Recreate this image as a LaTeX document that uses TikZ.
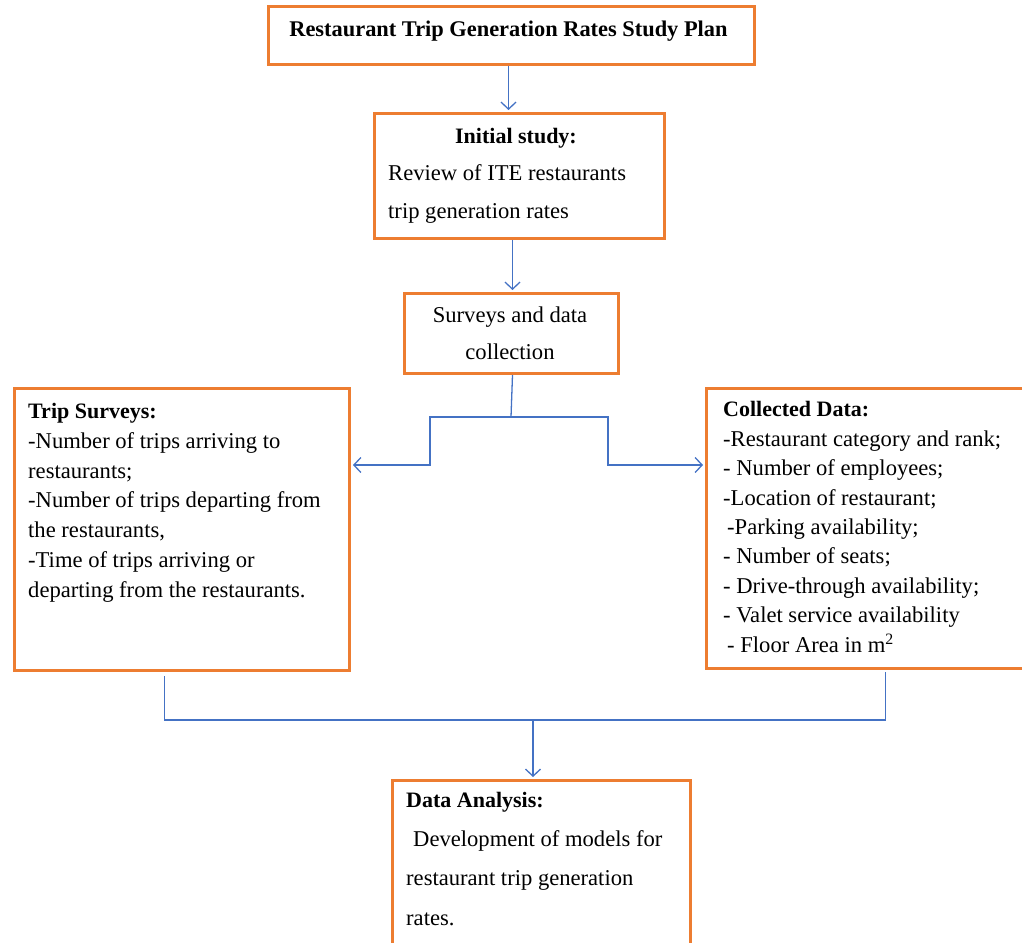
\documentclass[tikz,border=0pt]{standalone}
\usepackage{fontspec}
\setmainfont{Liberation Serif}
\usetikzlibrary{arrows.meta}
\definecolor{boxorange}{RGB}{237,125,49}
\definecolor{linkblue}{RGB}{68,114,196}
\begin{document}
\begin{tikzpicture}[x=1pt,y=-1pt,
  box/.style={draw=boxorange,line width=3pt,inner sep=0pt,anchor=north west},
  txt/.style={inner sep=0pt,anchor=base west,align=left},
  ctxt/.style={inner sep=0pt,anchor=base,align=center},
  fs/.style={font=\fontsize{22.6}{#1}\selectfont},
  link/.style={draw=linkblue,line width=1.3pt},
  arr/.style={link,-{Straight Barb[length=7pt,width=15pt]},shorten >=2pt}]
\useasboundingbox (0,0) rectangle (1022,942);
% boxes
\node[box,minimum width=486pt,minimum height=58pt] (title) at (267,5) {};
\node[box,minimum width=290pt,minimum height=125pt] (init) at (373,112) {};
\node[box,minimum width=214pt,minimum height=80pt] (surv) at (403,292) {};
\node[box,minimum width=335pt,minimum height=282pt] (trip) at (13,387) {};
\node[box,minimum width=340pt,minimum height=280pt] (coll) at (705,387) {};
\node[box,minimum width=298pt,minimum height=200pt] (anal) at (391,779) {};
% texts
\node[ctxt,fs=26] (ttl) at (508.5,37) {\fontsize{22.4}{26}\selectfont\bfseries Restaurant Trip Generation Rates Study Plan};
\node[ctxt,fs=26] (inith) at (516,143) {\fontsize{22}{26}\selectfont\bfseries Initial study:};
\node[txt,fs=37.5] (initb) at (388,218) {Review of ITE restaurants\\trip generation rates};
\node[ctxt,fs=37] (survt) at (510,359) {Surveys and data\\collection};
\node[txt,fs=29.7] (tript) at (28,597) {{\fontsize{22}{29.7}\selectfont\bfseries Trip Surveys:}\\-Number of trips arriving to\\restaurants;\\-Number of trips departing from\\the restaurants,\\-Time of trips arriving or\\departing from the restaurants.};
\node[txt,fs=29.4] (collt) at (723,652) {{\fontsize{22}{29.4}\selectfont\bfseries Collected Data:}\\-Restaurant category and rank;\\- Number of employees;\\-Location of restaurant;\\\hspace{4pt}-Parking availability;\\- Number of seats;\\- Drive-through availability;\\- Valet service availability\\\hspace{4pt}- Floor Area in m\textsuperscript{2}};
\node[txt,fs=39.3] (analt) at (406,925) {{\fontsize{22}{39.3}\selectfont\bfseries Data Analysis:}\\\hspace{7pt}Development of models for\\restaurant trip generation\\rates.};
% connectors
\draw[arr] ([xshift=-3pt]title.south) -- ([xshift=-3pt]title.south |- init.north);
\draw[arr] ([xshift=-7pt]init.south) -- ([xshift=-7pt]init.south |- surv.north);
\coordinate (split) at (511,417);
\coordinate (jl) at (430,417);
\coordinate (jr) at (608,417);
\coordinate (la) at ([yshift=-78pt]trip.north east);
\coordinate (ra) at ([yshift=-78pt]coll.north west);
\draw[link] ([xshift=1pt]surv.south) -- (split);
\draw[arr] (split) -- (jl) |- (la);
\draw[arr] (split) -- (jr) |- (ra);
\coordinate (jb) at (533,720);
\draw[link] ([xshift=-17.5pt,yshift=-4pt]trip.south) |- (jb) -| ([xshift=9pt,yshift=-2pt]coll.south);
\draw[arr] (jb) -- (jb |- anal.north);
\end{tikzpicture}
\end{document}
